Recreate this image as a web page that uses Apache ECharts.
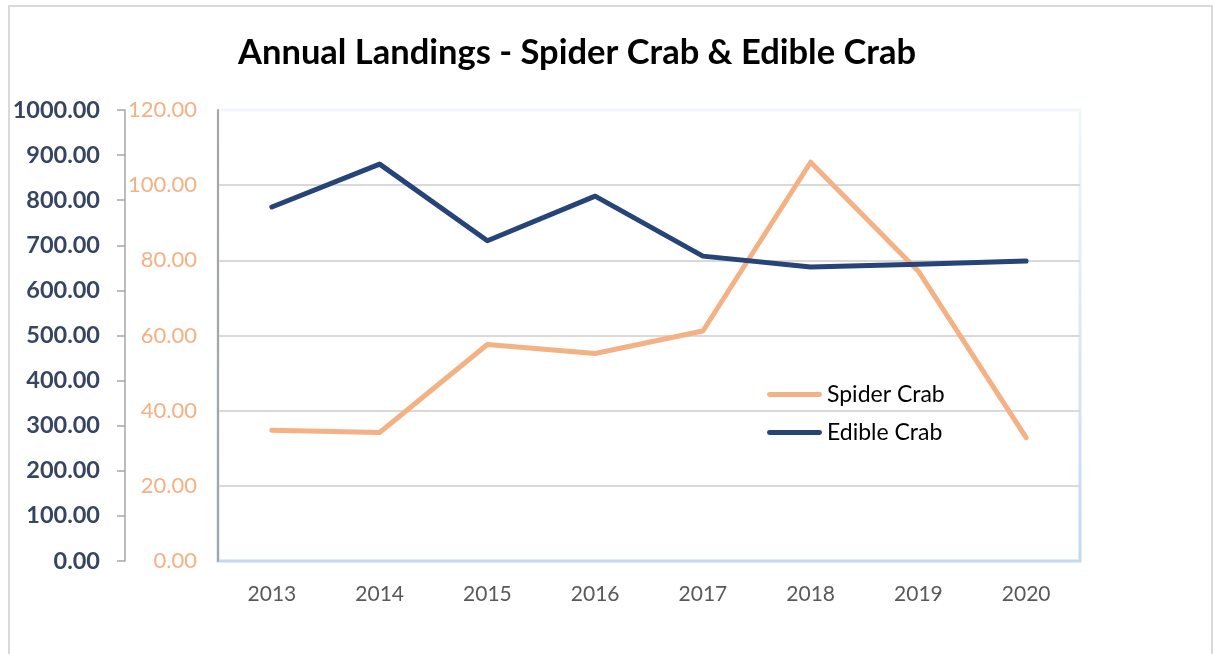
<!DOCTYPE html>
<html>
<head>
<meta charset="utf-8">
<title>Annual Landings - Spider Crab & Edible Crab</title>
<script src="https://cdn.jsdelivr.net/npm/echarts@6/dist/echarts.min.js"></script>
<style>
  html, body { margin: 0; padding: 0; background: #ffffff; }
  #chart { width: 1214px; height: 654px; }
</style>
</head>
<body>
<div id="chart"></div>
<script>
// Landings per year
const years = ['2013', '2014', '2015', '2016', '2017', '2018', '2019', '2020'];
const spiderCrab = [34.8, 34.2, 57.6, 55.2, 61.2, 106.1, 77.1, 32.8];
const edibleCrab = [785, 880, 710, 809, 676, 652, 658, 665];

// Axis ranges
const edibleAxis = { min: 0, max: 1000, interval: 100 };
const spiderAxis = { min: 0, max: 120, interval: 20 };

const FONT = 'Lato, "Open Sans", sans-serif';
const ORANGE = '#F4B183';
const NAVY = '#264478';
// flat bar used as the legend key
const LEGEND_KEY = 'path://M2,0 L53,0 A2.5,2.5 0 0 1 53,5 L2,5 A2.5,2.5 0 0 1 2,0 Z';

const chart = echarts.init(document.getElementById('chart'), null, { renderer: 'canvas' });

chart.setOption({
  backgroundColor: '#ffffff',
  animation: false,
  title: {
    text: 'Annual Landings - Spider Crab & Edible Crab',
    left: 577,
    top: 35,
    textAlign: 'center',
    padding: 0,
    textStyle: { fontFamily: FONT, fontWeight: 'bold', fontSize: 34.5, color: '#000000' }
  },
  graphic: [{
    type: 'rect',
    silent: true,
    z: -10,
    shape: { x: 9, y: 6, width: 1203, height: 680 },
    style: { fill: 'none', stroke: '#D9D9D9', lineWidth: 2 }
  }],
  legend: {
    orient: 'vertical',
    left: 767,
    top: 383,
    icon: LEGEND_KEY,
    itemWidth: 55,
    itemHeight: 5,
    itemGap: 15,
    padding: 0,
    textStyle: { fontFamily: FONT, fontSize: 23, color: '#000000' },
    data: ['Spider Crab', 'Edible Crab']
  },
  grid: {
    left: 218,
    right: 134,
    top: 110,
    bottom: 93,
    show: true,
    borderWidth: 3,
    borderColor: new echarts.graphic.LinearGradient(0, 0, 0, 1, [
      { offset: 0, color: '#F1F6FB' },
      { offset: 1, color: '#C3D9EE' }
    ])
  },
  xAxis: {
    type: 'category',
    data: years,
    boundaryGap: true,
    axisLine: { show: false },
    axisTick: { show: false },
    axisLabel: { fontFamily: FONT, fontSize: 21, color: '#595959', margin: 23 }
  },
  yAxis: [{
    type: 'value',
    position: 'left',
    offset: 93,
    min: edibleAxis.min,
    max: edibleAxis.max,
    interval: edibleAxis.interval,
    axisLine: { show: true, lineStyle: { color: '#A6A6A6', width: 1.5 } },
    axisTick: { show: true, length: 8, lineStyle: { color: '#A6A6A6', width: 1.5 } },
    splitLine: { show: false },
    axisLabel: {
      margin: 25,
      fontFamily: FONT,
      fontWeight: 'bold',
      fontSize: 23.5,
      color: '#364662',
      formatter: v => v.toFixed(2)
    }
  }, {
    type: 'value',
    position: 'left',
    offset: 0,
    min: spiderAxis.min,
    max: spiderAxis.max,
    interval: spiderAxis.interval,
    axisLine: { show: true, lineStyle: { color: '#A6A6A6', width: 2 } },
    axisTick: { show: false },
    splitLine: {
      show: true,
      showMinLine: false,
      showMaxLine: false,
      lineStyle: { color: '#D9D9D9', width: 2 }
    },
    axisLabel: {
      margin: 21,
      fontFamily: FONT,
      fontSize: 22,
      color: ORANGE,
      formatter: v => v.toFixed(2)
    }
  }],
  series: [{
    name: 'Spider Crab',
    type: 'line',
    yAxisIndex: 1,
    data: spiderCrab,
    symbol: 'none',
    color: ORANGE,
    lineStyle: { color: ORANGE, width: 5, cap: 'round', join: 'round' },
    z: 3
  }, {
    name: 'Edible Crab',
    type: 'line',
    yAxisIndex: 0,
    data: edibleCrab,
    symbol: 'none',
    color: NAVY,
    lineStyle: { color: NAVY, width: 5, cap: 'round', join: 'round' },
    z: 4
  }]
});
</script>
</body>
</html>
